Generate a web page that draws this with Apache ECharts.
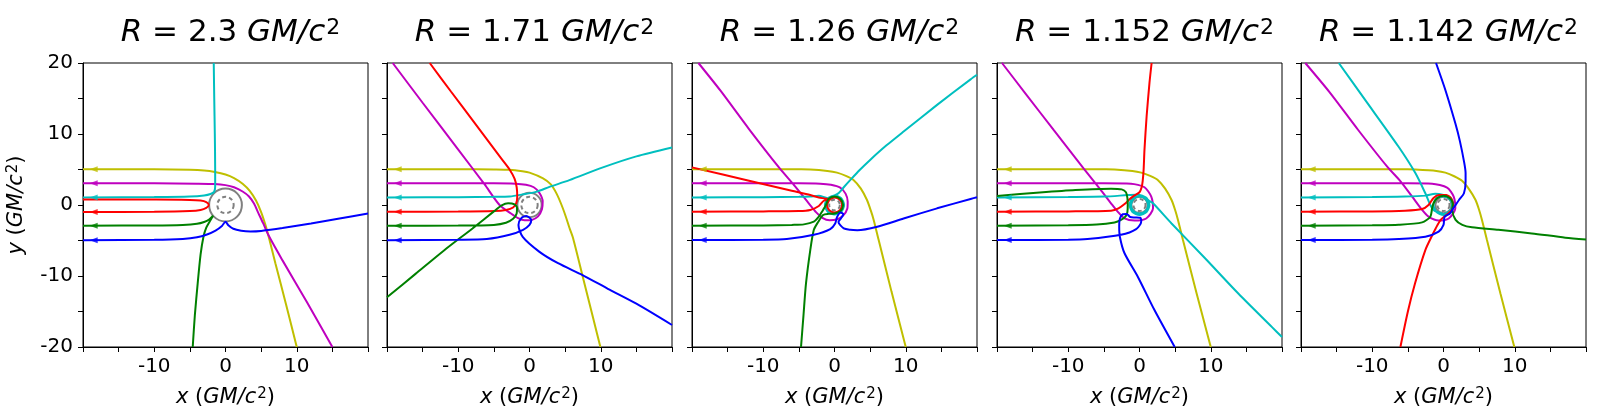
<!DOCTYPE html>
<html>
<head>
<meta charset="utf-8">
<script src="https://cdn.jsdelivr.net/npm/echarts@6/dist/echarts.min.js"></script>
<style>
html, body { margin: 0; background: #fff; }
#chart { width: 1600px; height: 418px; }
</style>
</head>
<body>
<div id="chart"></div>
<script>
// star radius per panel (GM/c^2) and the dashed inner circle
var radii = [2.3, 1.71, 1.26, 1.152, 1.142];
var radiusLabels = ['2.3', '1.71', '1.26', '1.152', '1.142'];
var innerRadii = [1.15, 1.15, 0.75, 0.85, 0.85];
var xLabelTicks = [-10, 0, 10];
var yLabelTicks = [-20, -10, 0, 10, 20];
// yellow, magenta, cyan, red, green, blue
var curveColors = ['#bfbf00', '#bf00bf', '#00bfbf', '#ff0000', '#008000', '#0000ff'];

// panel 1, R = 2.3
var p1Yellow = [[-20,5.05],[-10,5.02],[-5,4.95],[-3,4.85],[-1.5,4.65],[0,4.3],[1.2,3.8],[2.4,3.0],[3.4,2.0],[4.3,0.6],[5.0,-1.0],[5.6,-2.8],[6.1,-4.6],[7,-8.2],[8.5,-14],[10,-20]];
var p1Magenta = [[-20,3.05],[-10,3.05],[-4,3.0],[-1.5,2.95],[0,2.8],[1.2,2.5],[2.4,1.9],[3.3,1.2],[4.0,0.2],[4.6,-1.1],[5.3,-2.6],[6,-4.2],[8,-7.8],[11.5,-13.8],[15,-20]];
var p1Cyan = [[-20,1.05],[-10,1.12],[-5,1.2],[-3,1.35],[-2.1,1.55],[-1.6,1.85],[-1.45,2.6],[-1.45,5],[-1.5,10],[-1.58,15],[-1.65,20]];
var p1Red = [[-20,-1],[-10,-0.95],[-5,-0.85],[-3.5,-0.7],[-2.7,-0.4],[-2.35,0],[-2.7,0.4],[-3.5,0.62],[-5,0.72],[-10,0.76],[-20,0.78]];
var p1Green = [[-20,-2.92],[-10,-2.88],[-6,-2.8],[-4,-2.65],[-3,-2.4],[-2.3,-2.05],[-1.75,-1.5],[-2.2,-2.3],[-2.7,-3.2],[-3.1,-4.5],[-3.5,-7],[-3.9,-11],[-4.3,-15.5],[-4.6,-20]];
var p1Blue = [[-20,-4.95],[-10,-4.9],[-6,-4.78],[-4,-4.55],[-2.6,-4.15],[-1.4,-3.6],[-0.5,-2.95],[0,-2.35],[0.4,-2.85],[1.1,-3.35],[2.2,-3.62],[3.5,-3.72],[5,-3.65],[8,-3.25],[12,-2.6],[16,-1.9],[20,-1.2]];

// panel 2, R = 1.71
var p2Yellow = [[-20,5.05],[-10,5.05],[-5,5.0],[-2.8,4.95],[-1,4.75],[0,4.56],[1.9,3.76],[3,2.9],[3.8,1.6],[4.5,0],[5.1,-1.65],[5.6,-3.2],[6.1,-4.6],[7.5,-10.2],[9,-16.2],[9.95,-20]];
var p2Magenta = [[-20,3.05],[-10,3.05],[-5,3.05],[-2,3.0],[-0.5,2.85],[0.6,2.5],[1.4,1.7],[1.85,0.5],[1.75,-0.6],[1.2,-1.6],[0.3,-2.1],[-0.7,-2.15],[-1.6,-1.85],[-2.6,-1.2],[-4.2,0],[-6.3,2.9],[-10,7.8],[-15,14.4],[-19.2,20]];
var p2Cyan = [[-20,1.05],[-10,1.1],[-5,1.15],[-2.8,1.2],[-0.9,1.5],[0.9,1.85],[2.8,2.55],[5.6,3.5],[10.3,5.3],[15,6.85],[20,8.1]];
var p2Red = [[-20,-0.95],[-10,-0.92],[-5,-0.85],[-3.3,-0.7],[-2.3,-0.35],[-1.85,0.3],[-1.72,1.2],[-1.8,2.5],[-2.1,3.7],[-2.8,5.0],[-4,6.6],[-8,11.95],[-11,15.95],[-14,20]];
var p2Green = [[-20,-2.92],[-10,-2.9],[-5,-2.8],[-3.3,-2.5],[-2.3,-1.95],[-1.8,-1.2],[-1.75,-0.4],[-2.1,0.1],[-3,0.25],[-3.9,-0.05],[-5,-0.9],[-8,-3.3],[-12,-6.4],[-16,-9.7],[-20,-13]];
var p2Blue = [[-20,-4.95],[-10,-4.9],[-6,-4.8],[-2.8,-4.2],[-0.9,-3.5],[0,-2.8],[0.25,-2.1],[-0.45,-1.55],[-1.15,-1.85],[-1.55,-2.8],[-0.95,-4.5],[1.4,-6.6],[4,-8.2],[7.5,-9.9],[11,-11.8],[15,-13.9],[20,-16.9]];

// panel 3, R = 1.26
var p3Yellow = [[-20,5.05],[-10,5.05],[-5,5.02],[-3.4,5.0],[-1,4.8],[0.35,4.56],[1.6,4.1],[2.7,3.5],[3.7,2.3],[4.56,0.7],[5.1,-0.8],[5.5,-2.1],[6.2,-4.94],[8,-12.2],[10,-20]];
var p3Magenta = [[-20,3.05],[-10,3.05],[-5,3.05],[-2,3.0],[-0.5,2.85],[0.8,2.45],[1.55,1.6],[1.85,0.5],[1.8,-0.5],[1.2,-1.5],[0.3,-2.05],[-0.7,-2.15],[-1.7,-1.8],[-2.6,-1.0],[-3.5,0.1],[-5.5,2.6],[-7.8,5.3],[-12,10.7],[-16,16.1],[-19.1,20]];
var p3Cyan = [[-20,1.05],[-10,1.1],[-5,1.15],[-3.4,1.2],[-2.2,1.3],[-0.95,0.95],[0,1.35],[0.95,0.95],[1.35,0],[0.95,-0.95],[0,-1.35],[-0.95,-0.95],[-1.35,0],[-0.95,0.95],[0,1.35],[0.6,1.7],[1.3,2.5],[2.2,3.5],[3.5,4.9],[5,6.35],[7.3,8.4],[9.7,10.35],[14.4,14.1],[19.1,17.7],[20,18.35]];
var p3Red = [[-20,-0.94],[-10,-0.9],[-5,-0.85],[-3.4,-0.7],[-2.2,-0.14],[-1.5,0.6],[-0.74,0.74],[0,1.05],[0.74,0.74],[1.05,0],[0.74,-0.74],[0,-1.05],[-0.74,-0.74],[-1.05,0],[-0.74,0.74],[-1.3,0.9],[-2.2,1.05],[-3.4,1.4],[-6,2.0],[-12,3.42],[-20,5.3]];
var p3Green = [[-20,-2.92],[-10,-2.88],[-6,-2.8],[-4.3,-2.73],[-2.9,-2.35],[-2.2,-1.65],[-1.75,-0.94],[-1.2,0],[-0.85,0.85],[0,1.2],[0.85,0.85],[1.2,0],[0.85,-0.85],[0,-1.2],[-0.8,-1.25],[-1.6,-1.4],[-2.3,-2.4],[-2.9,-3.5],[-3.4,-6.35],[-4.0,-11.05],[-4.35,-15.5],[-4.7,-20]];
var p3Blue = [[-20,-4.94],[-10,-4.9],[-6.7,-4.8],[-2.9,-4.2],[-0.6,-3.4],[0.1,-2.6],[0.35,-1.7],[0.85,-1.05],[1.25,-1.3],[0.9,-1.9],[0.55,-2.4],[1.3,-3.3],[2.2,-3.5],[3.2,-3.55],[6,-3.06],[9.7,-1.9],[14.4,-0.47],[19.1,0.85],[20,1.1]];

// panel 4, R = 1.152
var p4Yellow = [[-20,5.05],[-10,5.05],[-5,5.02],[-3.5,5.0],[-1,4.8],[0.24,4.56],[1.5,4.1],[2.6,3.5],[3.6,2.3],[4.5,0.7],[5.0,-0.7],[5.4,-2.1],[6.1,-4.94],[8,-12.4],[10,-20]];
var p4Magenta = [[-20,3.05],[-10,3.05],[-5,3.05],[-1.2,3.0],[0.7,2.5],[1.65,1.18],[1.9,-0.47],[0.94,-1.9],[-0.7,-2.2],[-2.1,-1.9],[-3.06,-0.94],[-4.0,0.24],[-5.5,2.2],[-7.8,5.1],[-12,10.5],[-16,15.7],[-19.3,20]];
var p4Cyan = [[-20,1.05],[-10,1.12],[-4.9,1.18],[-1.65,1.4],[-0.6,1.45],[0,1.4],[0.99,0.99],[1.4,0],[0.99,-0.99],[0,-1.4],[-0.99,-0.99],[-1.4,0],[-0.99,0.99],[0,1.2],[0.85,0.85],[1.2,0],[0.85,-0.85],[0,-1.2],[-0.85,-0.85],[-1.2,0],[-0.85,0.85],[0,1.3],[0.95,0.95],[1.4,0.55],[1.9,0.24],[4.5,-2.6],[9.2,-7.5],[13.9,-12.5],[18.6,-17.2],[20,-18.6]];
var p4Red = [[-20,-0.94],[-10,-0.9],[-4,-0.8],[-2.95,-0.47],[-2.0,0.2],[-1.4,0.8],[-0.7,1.35],[0,1.8],[0.3,2.5],[0.45,3.4],[0.58,5],[0.7,7.8],[1.0,12.5],[1.4,17.2],[1.7,20]];
var p4Green = [[-20,-2.92],[-10,-2.85],[-6,-2.75],[-3.5,-2.45],[-2.6,-2.1],[-1.95,-1.6],[-1.7,-1.0],[-1.65,0],[-1.7,1.0],[-1.9,1.8],[-2.5,2.2],[-4,2.3],[-9,2.1],[-14,1.75],[-20,1.27]];
var p4Blue = [[-20,-4.94],[-10,-4.9],[-7.3,-4.8],[-2.6,-4.2],[-0.47,-3.4],[0.24,-2.35],[0.1,-1.8],[-0.6,-1.75],[-1.3,-1.7],[-1.8,-1.25],[-2.35,-1.3],[-2.75,-1.9],[-2.85,-3],[-2.75,-4.5],[-2.1,-6.8],[-0.24,-10.1],[2.1,-14.8],[4.94,-20]];

// panel 5, R = 1.142
var p5Yellow = [[-20,5.05],[-10,5.05],[-5,5.02],[-4,5.0],[-1,4.8],[0.26,4.56],[1.5,4.05],[2.6,3.4],[3.6,2.2],[4.5,0.7],[5.0,-0.7],[5.4,-2.1],[6.1,-4.94],[8,-12.5],[9.94,-20]];
var p5Magenta = [[-20,3.05],[-10,3.05],[-5,3.05],[-1.6,3.0],[0.5,2.45],[1.43,1.18],[1.66,-0.47],[0.73,-1.9],[-0.68,-2.2],[-2.1,-1.65],[-3.0,-0.7],[-4.4,1.18],[-6,3.3],[-7.9,5.4],[-12,10.6],[-16,15.9],[-19.4,20]];
var p5Cyan = [[-20,1.05],[-10,1.12],[-5.4,1.18],[-2.55,1.32],[-1.15,1.6],[0,1.4],[0.99,0.99],[1.4,0],[0.99,-0.99],[0,-1.4],[-0.99,-0.99],[-1.4,0],[-0.99,0.99],[0,1.2],[0.85,0.85],[1.2,0],[0.85,-0.85],[0,-1.25],[-0.95,-0.95],[-1.4,-0.7],[-1.85,0],[-2.55,1.65],[-3.95,4.5],[-6.3,8.2],[-11,14.8],[-14.7,20]];
var p5Red = [[-20,-0.94],[-10,-0.9],[-5.4,-0.8],[-3.0,-0.56],[-2.1,0],[-1.4,1.0],[-0.6,1.4],[0.4,1.4],[1.1,0.9],[1.35,0],[1.1,-0.8],[0.4,-1.4],[-0.4,-2.1],[-1.1,-3.3],[-1.6,-4.3],[-2.55,-6.35],[-4.0,-11.05],[-5.0,-15],[-6.05,-20]];
var p5Green = [[-20,-2.92],[-10,-2.85],[-6.3,-2.78],[-3.0,-2.45],[-1.85,-1.65],[-1.6,-0.47],[-1.4,0.24],[-0.9,0.95],[0,1.3],[0.9,0.95],[1.3,0.2],[1.24,-0.7],[1.7,-2.1],[2.64,-2.8],[4.0,-3.15],[7.7,-3.5],[12.4,-4.0],[17.1,-4.6],[20,-4.85]];
var p5Blue = [[-20,-4.94],[-10,-4.9],[-6.3,-4.8],[-2.55,-4.47],[-0.68,-3.76],[0,-2.8],[0.16,-1.65],[0.9,-1.2],[1.35,-0.5],[1.7,0],[2.17,0.7],[2.87,1.65],[3.1,3.3],[3.1,4.5],[2.9,6],[2.3,9],[1.66,11.5],[0.26,16.2],[-1.05,20]];

var panels = [
    [p1Yellow, p1Magenta, p1Cyan, p1Red, p1Green, p1Blue],
    [p2Yellow, p2Magenta, p2Cyan, p2Red, p2Green, p2Blue],
    [p3Yellow, p3Magenta, p3Cyan, p3Red, p3Green, p3Blue],
    [p4Yellow, p4Magenta, p4Cyan, p4Red, p4Green, p4Blue],
    [p5Yellow, p5Magenta, p5Cyan, p5Red, p5Green, p5Blue]
];

var font = 'DejaVu Sans';
var gridLefts = [83, 387, 692, 997, 1301];
var gridTop = 63, gridSize = 285, gridHeight = 284;
var arrowX = -18.5;

// rich styles: italic maths and a raised superscript
function mathRich(size) {
    var sup = Math.round(size * 0.7);
    return {
        i: { fontFamily: font, fontSize: size, fontStyle: 'italic', color: '#000' },
        s: { fontFamily: font, fontSize: sup, lineHeight: Math.round(sup * 0.45), verticalAlign: 'top', color: '#000', padding: [0, 0, 0, 1] }
    };
}

function ringRenderer(dashed) {
    return function (params, api) {
        var c = api.coord([api.value(0), api.value(1)]);
        var r = api.size([api.value(2), 0])[0];
        return {
            type: 'circle',
            shape: { cx: c[0], cy: c[1], r: r },
            style: {
                fill: dashed ? '#fff' : 'none',
                stroke: '#808080',
                lineWidth: 2,
                lineDash: dashed ? [4, 3] : null
            }
        };
    };
}

var grids = [], xAxes = [], yAxes = [], titles = [], series = [];

panels.forEach(function (curves, i) {
    grids.push({
        left: gridLefts[i], top: gridTop, width: gridSize, height: gridHeight,
        show: true, borderColor: '#000', borderWidth: 1, backgroundColor: '#fff'
    });
    titles.push({
        text: '{i|R} = ' + radiusLabels[i] + ' {i|GM/c}{s|2}',
        left: gridLefts[i] + gridSize / 2,
        top: 12,
        textAlign: 'center',
        textStyle: {
            fontFamily: font, fontSize: 31, fontWeight: 'normal', color: '#000',
            rich: mathRich(31)
        }
    });
    xAxes.push({
        gridIndex: i, type: 'value', min: -20, max: 20, interval: 5,
        name: '{i|x} ({i|GM/c}{s|2})', nameLocation: 'middle', nameGap: 40,
        nameTextStyle: { fontFamily: font, fontSize: 21, color: '#000', rich: mathRich(21) },
        axisLine: { show: true, onZero: false, lineStyle: { color: '#000', width: 1 } },
        axisTick: { show: true, length: 5, lineStyle: { color: '#000' } },
        axisLabel: {
            interval: 0, margin: 10, fontFamily: font, fontSize: 20, color: '#000',
            formatter: function (v) { return xLabelTicks.indexOf(v) >= 0 ? String(v) : ''; }
        },
        splitLine: { show: false }
    });
    yAxes.push({
        gridIndex: i, type: 'value', min: -20, max: 20, interval: 5,
        name: i === 0 ? '{i|y} ({i|GM/c}{s|2})' : '', nameLocation: 'middle', nameGap: 56,
        nameRotate: 90,
        nameTextStyle: { fontFamily: font, fontSize: 21, color: '#000', rich: mathRich(21) },
        axisLine: { show: true, onZero: false, lineStyle: { color: '#000', width: 1 } },
        axisTick: { show: true, length: 5, lineStyle: { color: '#000' } },
        axisLabel: {
            show: i === 0, interval: 0, margin: 10, fontFamily: font, fontSize: 20, color: '#000',
            formatter: function (v) { return yLabelTicks.indexOf(v) >= 0 ? String(v) : ''; }
        },
        splitLine: { show: false }
    });

    // star surface
    series.push({
        type: 'custom', xAxisIndex: i, yAxisIndex: i, silent: true, z: 2,
        encode: { x: 0, y: 1 },
        data: [[0, 0, radii[i]]],
        renderItem: ringRenderer(false)
    });
    curves.forEach(function (curve, j) {
        series.push({
            type: 'line', xAxisIndex: i, yAxisIndex: i, z: 3,
            data: curve, showSymbol: false, symbol: 'none', smooth: 0.25,
            lineStyle: { color: curveColors[j], width: 2 }
        });
        series.push({
            type: 'scatter', xAxisIndex: i, yAxisIndex: i, z: 4,
            data: [[arrowX, curve[0][1]]],
            symbol: 'triangle', symbolRotate: 90, symbolSize: [6, 8],
            itemStyle: { color: curveColors[j] }
        });
    });
    series.push({
        type: 'custom', xAxisIndex: i, yAxisIndex: i, silent: true, z: 5,
        encode: { x: 0, y: 1 },
        data: [[0, 0, innerRadii[i]]],
        renderItem: ringRenderer(true)
    });
});

var chart = echarts.init(document.getElementById('chart'));
chart.setOption({
    animation: false,
    backgroundColor: '#fff',
    title: titles,
    grid: grids,
    xAxis: xAxes,
    yAxis: yAxes,
    series: series
});
</script>
</body>
</html>
